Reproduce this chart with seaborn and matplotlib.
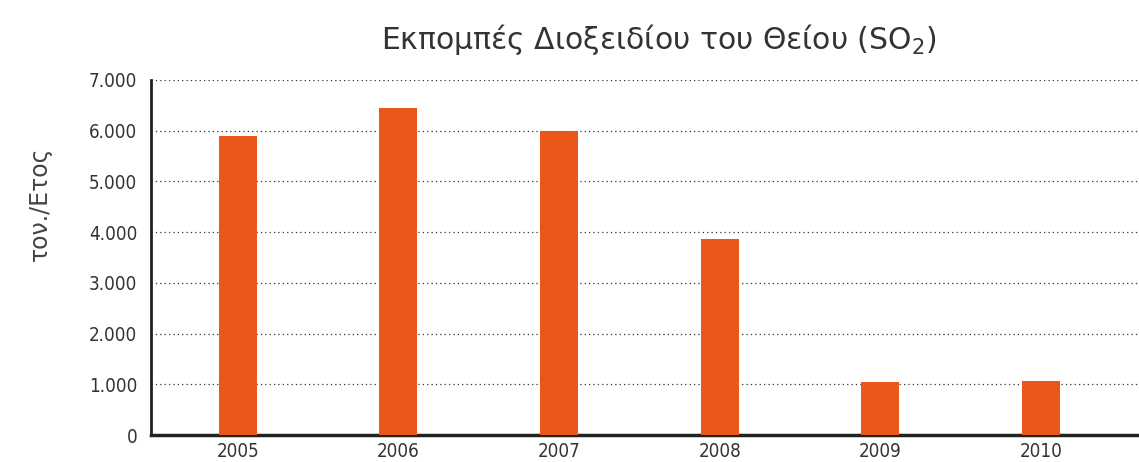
import pandas as pd
import matplotlib
matplotlib.use('Agg')
import matplotlib.pyplot as plt
import matplotlib.ticker as mticker
import seaborn as sns

years = ['2005', '2006', '2007', '2008', '2009', '2010']
so2 = [5900, 6450, 5990, 3870, 1045, 1065]
yticks = [0, 1000, 2000, 3000, 4000, 5000, 6000, 7000]

df = pd.DataFrame({'year': years, 'so2': so2})

sns.set_style('white')
plt.rcParams['font.family'] = ['DejaVu Sans']

fig = plt.figure(figsize=(11.39, 4.62), dpi=100)
ax = fig.add_axes([0.1326, 0.0584, 0.8674, 0.7686])

sns.barplot(data=df, x='year', y='so2', color='#E95818', saturation=1,
            width=0.236, linewidth=0, ax=ax, zorder=3)

ax.set_ylim(0, 7000)
ax.set_xlim(-0.54, 5.61)
ax.set_yticks(yticks)
ax.yaxis.set_major_formatter(mticker.FuncFormatter(
    lambda v, p: f'{int(v):,}'.replace(',', '.')))
ax.grid(axis='y', linestyle=(0, (1, 2.5)), color='#333333', linewidth=0.9, zorder=0)
ax.set_axisbelow(True)

for s in ['top', 'right']:
    ax.spines[s].set_visible(False)
ax.spines['left'].set_linewidth(2)
ax.spines['left'].set_color('#222222')
ax.spines['bottom'].set_linewidth(2.5)
ax.spines['bottom'].set_color('#222222')
ax.tick_params(axis='y', length=0, labelsize=13.5, colors='#333333', pad=10)
ax.tick_params(axis='x', length=0, labelsize=13.5, colors='#333333', pad=5)
for lbl in ax.get_xticklabels() + ax.get_yticklabels():
    lbl.set_fontstretch('condensed')

ax.set_xlabel('')
ax.set_ylabel('')
fig.text(0.035, 0.56, 'τον./Ετος', rotation=90, ha='center', va='center',
         fontsize=17, color='#444444')
fig.text(0.578, 0.915, 'Εκπομπές Διοξειδίου του Θείου (SO$_2$)', ha='center',
         va='center', fontsize=21.5, color='#333333')

fig.savefig('out.png', dpi=100)
